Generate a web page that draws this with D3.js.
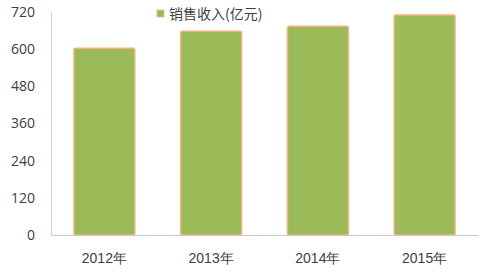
<!DOCTYPE html>
<html lang="zh">
<head>
	<meta charset="utf-8">
	<script src="https://d3js.org/d3.v7.min.js"></script>
	<style type="text/css">
		body {
			margin: 0;
			background: #fff;
			font-family: "Noto Sans CJK SC", "Noto Sans", sans-serif;
		}
	</style>
</head>
<body>
	<script type="text/javascript">
	var width = 488;
	var height = 275;

	// chart data
	var years = ["2012年", "2013年", "2014年", "2015年"];
	var revenue = [603, 658, 674, 710];
	var yTicks = [0, 120, 240, 360, 480, 600, 720];
	var legendLabel = "销售收入(亿元)";

	var margin = {top: 12, right: 10, bottom: 40, left: 51};

	var svg = d3.select("body")
				.append("svg")
				.attr("width", width)
				.attr("height", height);

	var x = d3.scaleBand()
			  .domain(years)
			  .range([margin.left, 478])
			  .paddingInner(0.43)
			  .paddingOuter(0.215);

	var y = d3.scaleLinear()
			  .domain([0, 720])
			  .range([235, margin.top]);

	// y axis
	var yAxis = svg.append("g")
				   .attr("transform", "translate(" + margin.left + ",0)")
				   .call(d3.axisLeft(y).tickValues(yTicks).tickSize(0).tickPadding(16));
	yAxis.select(".domain").attr("stroke", "#d0d0d0");
	yAxis.selectAll("text")
		 .attr("fill", "#404040")
		 .style("font-size", "14px")
		 .style("font-family", "'Open Sans', 'Noto Sans', sans-serif");

	// bars
	svg.selectAll("rect.bar")
	   .data(revenue)
	   .enter()
	   .append("rect")
	   .attr("class", "bar")
	   .attr("x", function(d, i) { return x(years[i]); })
	   .attr("y", function(d) { return y(d); })
	   .attr("width", x.bandwidth())
	   .attr("height", function(d) { return y(0) - y(d); })
	   .attr("rx", 1.5)
	   .style("fill", "#9bbb59")
	   .style("stroke", "#f5b183")
	   .style("stroke-width", 1.5);

	// x axis
	var xAxis = svg.append("g")
				   .attr("transform", "translate(0," + y(0) + ")")
				   .call(d3.axisBottom(x).tickSize(0).tickPadding(18));
	xAxis.select(".domain").attr("stroke", "#c8c8c8");
	xAxis.selectAll("text")
		 .attr("fill", "#404040")
		 .style("font-size", "14px");

	// legend
	var legend = svg.append("g")
					.attr("transform", "translate(157,10)");
	legend.append("rect")
		  .attr("width", 7)
		  .attr("height", 7)
		  .style("fill", "#9bbb59")
		  .style("stroke", "#f5b183")
		  .style("stroke-width", 0.8);
	legend.append("text")
		  .attr("x", 12)
		  .attr("y", 4)
		  .attr("dy", ".35em")
		  .attr("fill", "#404040")
		  .style("font-size", "14px")
		  .text(legendLabel);
	</script>
</body>
</html>
